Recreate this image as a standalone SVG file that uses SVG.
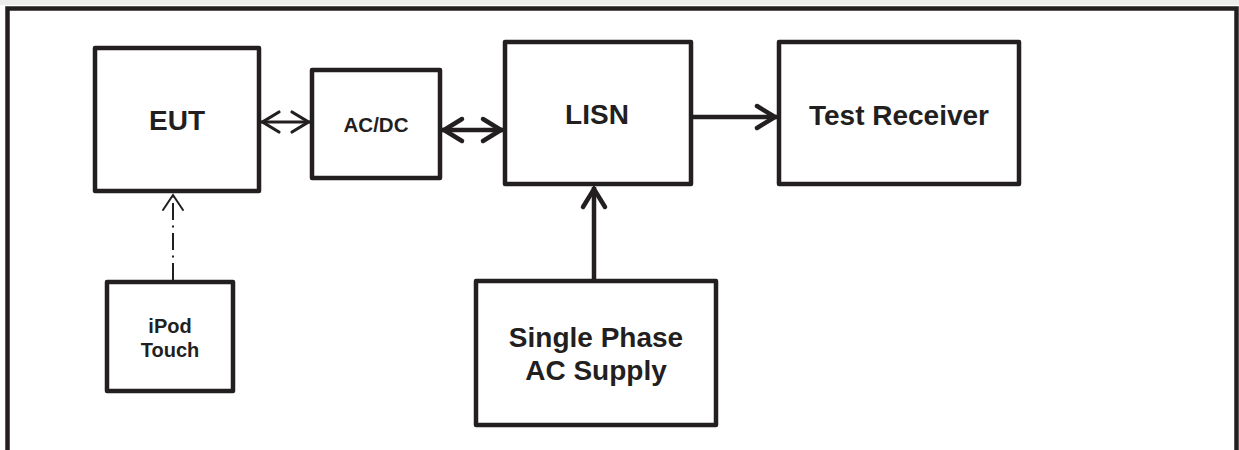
<svg xmlns="http://www.w3.org/2000/svg" width="1239" height="450" viewBox="0 0 1239 450">
  <style>
    .box { fill: #ffffff; stroke: #231f20; stroke-width: 4.5; stroke-linejoin: round; }
    .lbl { font-family: "Liberation Sans", Arial, Helvetica, sans-serif; font-weight: bold; fill: #231f20; text-anchor: middle; }
    .big { font-size: 28px; }
    .mid { font-size: 20.5px; }
    .sml { font-size: 20px; }
    .thin { stroke: #231f20; stroke-width: 3; fill: none; }
    .thick { stroke: #231f20; stroke-width: 4.5; fill: none; }
    .dashdot { stroke: #231f20; stroke-width: 2; fill: none; stroke-dasharray: 17 5.5 2 5.5; }
  </style>
  <defs>
    <marker id="arrThin" markerUnits="userSpaceOnUse" viewBox="-24 -14 28 28" markerWidth="28" markerHeight="28" refX="0" refY="0" orient="auto-start-reverse">
      <path d="M-18,-10 L-1.5,0 L-18,10" fill="none" stroke="#231f20" stroke-width="3.2" stroke-linecap="round" stroke-linejoin="miter"/>
    </marker>
    <marker id="arrFine" markerUnits="userSpaceOnUse" viewBox="-24 -14 28 28" markerWidth="28" markerHeight="28" refX="0" refY="0" orient="auto-start-reverse">
      <path d="M-16,-10 L-1,0 L-16,10" fill="none" stroke="#231f20" stroke-width="2" stroke-linecap="round" stroke-linejoin="miter"/>
    </marker>
    <marker id="arrThick" markerUnits="userSpaceOnUse" viewBox="-26 -16 30 32" markerWidth="30" markerHeight="32" refX="0" refY="0" orient="auto-start-reverse">
      <path d="M-20,-11 L-2,0 L-20,11" fill="none" stroke="#231f20" stroke-width="4.5" stroke-linecap="round" stroke-linejoin="miter"/>
    </marker>
  </defs>

  <rect x="0" y="0" width="1239" height="5" fill="#ececec"/>
  <rect x="0" y="5" width="1239" height="445" fill="#ffffff"/>

  <g id="frame">
    <path d="M7.5,452 V8.5 H1236.5 V452" fill="none" stroke="#231f20" stroke-width="4.5"/>
  </g>

  <g id="connectors">
    <line class="thin" x1="261" y1="122" x2="310" y2="122" marker-start="url(#arrThin)" marker-end="url(#arrThin)"/>
    <line class="thick" x1="442" y1="130" x2="503" y2="130" marker-start="url(#arrThick)" marker-end="url(#arrThick)"/>
    <line class="thick" x1="693" y1="117" x2="777" y2="117" marker-end="url(#arrThick)"/>
    <line class="thick" x1="594" y1="279" x2="594" y2="187" marker-end="url(#arrThick)"/>
    <line class="dashdot" x1="173" y1="280" x2="173" y2="194"/>
    <line stroke="none" x1="173" y1="212" x2="173" y2="194" marker-end="url(#arrFine)"/>
  </g>

  <g id="eut">
    <rect class="box" x="95" y="48" width="164" height="143"/>
    <text class="lbl big" x="177" y="130">EUT</text>
  </g>

  <g id="acdc">
    <rect class="box" x="312" y="70" width="128" height="108"/>
    <text class="lbl mid" x="376" y="132">AC/DC</text>
  </g>

  <g id="lisn">
    <rect class="box" x="505" y="42" width="186" height="142"/>
    <text class="lbl big" x="597" y="124">LISN</text>
  </g>

  <g id="test-receiver">
    <rect class="box" x="779" y="42" width="240" height="142"/>
    <text class="lbl big" x="899" y="125">Test Receiver</text>
  </g>

  <g id="ipod-touch">
    <rect class="box" x="107" y="282" width="126" height="109"/>
    <text class="lbl sml" x="170" y="333">iPod</text>
    <text class="lbl sml" x="170" y="357">Touch</text>
  </g>

  <g id="ac-supply">
    <rect class="box" x="476" y="281" width="240" height="144"/>
    <text class="lbl big" x="596" y="347">Single Phase</text>
    <text class="lbl big" x="596" y="380">AC Supply</text>
  </g>
</svg>
